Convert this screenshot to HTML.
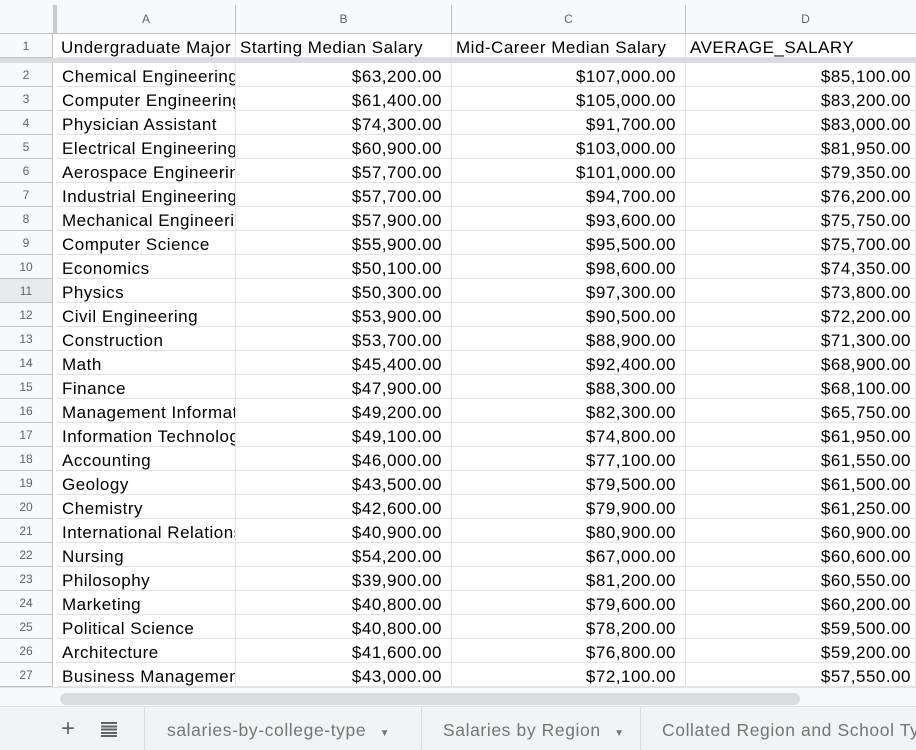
<!DOCTYPE html>
<html><head><meta charset="utf-8">
<style>
body{margin:0;width:916px;height:750px;overflow:hidden;background:#fff;font-family:"Liberation Sans",Arial,sans-serif;position:relative}
.a{position:absolute;box-sizing:border-box;white-space:nowrap;overflow:hidden}
.rh{left:0;width:53px;background:#f8f9fa;border-right:1px solid #c0c0c0;border-bottom:1px solid #c0c0c0;color:#5f6368;font-size:12px;text-align:center}
.ch{top:5px;height:29px;background:#f8f9fa;border-right:1px solid #c0c0c0;border-bottom:1px solid #c0c0c0;color:#5f6368;font-size:12px;text-align:center;line-height:29px}
.c{height:24px;border-right:1px solid #e2e2e2;border-bottom:1px solid #e2e2e2;font-size:17px;letter-spacing:0.5px;color:#000;line-height:27px;padding:0 9px 0 5px}
.r{text-align:right}
.tab{top:706px;height:44px;line-height:48px;font-size:17.5px;letter-spacing:0.6px;color:#757575;border-right:1px solid #dadce0;padding-left:22px}
</style></head><body>
<div class="a" style="left:0;top:0;width:916px;height:5px;background:#f8f9fa"></div>
<div class="a" style="left:0;top:5px;width:57px;height:29px;background:#f8f9fa;border-bottom:1px solid #c0c0c0"></div>
<div class="a" style="left:53px;top:5px;width:4px;height:29px;background:#c8c8c8;z-index:3"></div>
<div class="a ch" style="left:57px;width:179px">A</div>
<div class="a ch" style="left:236px;width:216px">B</div>
<div class="a ch" style="left:452px;width:234px">C</div>
<div class="a ch" style="left:686px;width:240px">D</div>
<div class="a" style="left:0;top:58px;width:916px;height:5px;background:#dadce0;z-index:2"></div>
<div id="grid"></div>
<div class="a" style="left:0;top:687px;width:916px;height:19px;background:#f8f9fa;border-top:1px solid #e2e2e2"></div>
<div class="a" style="left:60px;top:693px;width:740px;height:12px;border-radius:6px;background:#dadce0"></div>
<div class="a" style="left:0;top:706px;width:916px;height:44px;background:#f1f3f4;border-top:1px solid #e0e0e0"></div>
<div class="a" style="left:61px;top:716px;width:22px;height:26px;font-size:24px;color:#5f6368;line-height:26px">+</div>
<div class="a" style="left:101px;top:722px;width:16px;height:15px;background:repeating-linear-gradient(#5f6368 0 2px,transparent 2px 3.3px)"></div>
<div class="a tab" style="left:144px;width:278px;border-left:1px solid #dadce0">salaries-by-college-type <span style="font-size:10px;margin-left:8px">▼</span></div>
<div class="a tab" style="left:421px;width:220px">Salaries by Region <span style="font-size:10px;margin-left:8px">▼</span></div>
<div class="a tab" style="left:640px;width:290px;border-right:none">Collated Region and School Type</div>
<script>
const majors=["Chemical Engineering","Computer Engineering","Physician Assistant","Electrical Engineering","Aerospace Engineering","Industrial Engineering","Mechanical Engineering","Computer Science","Economics","Physics","Civil Engineering","Construction","Math","Finance","Management Information Systems","Information Technology","Accounting","Geology","Chemistry","International Relations","Nursing","Philosophy","Marketing","Political Science","Architecture","Business Management"];
const starting=["$63,200.00","$61,400.00","$74,300.00","$60,900.00","$57,700.00","$57,700.00","$57,900.00","$55,900.00","$50,100.00","$50,300.00","$53,900.00","$53,700.00","$45,400.00","$47,900.00","$49,200.00","$49,100.00","$46,000.00","$43,500.00","$42,600.00","$40,900.00","$54,200.00","$39,900.00","$40,800.00","$40,800.00","$41,600.00","$43,000.00"];
const midCareer=["$107,000.00","$105,000.00","$91,700.00","$103,000.00","$101,000.00","$94,700.00","$93,600.00","$95,500.00","$98,600.00","$97,300.00","$90,500.00","$88,900.00","$92,400.00","$88,300.00","$82,300.00","$74,800.00","$77,100.00","$79,500.00","$79,900.00","$80,900.00","$67,000.00","$81,200.00","$79,600.00","$78,200.00","$76,800.00","$72,100.00"];
const average=["$85,100.00","$83,200.00","$83,000.00","$81,950.00","$79,350.00","$76,200.00","$75,750.00","$75,700.00","$74,350.00","$73,800.00","$72,200.00","$71,300.00","$68,900.00","$68,100.00","$65,750.00","$61,950.00","$61,550.00","$61,500.00","$61,250.00","$60,900.00","$60,600.00","$60,550.00","$60,200.00","$59,500.00","$59,200.00","$57,550.00"];
const headers=["Undergraduate Major","Starting Median Salary","Mid-Career Median Salary","AVERAGE_SALARY"];
const colX=[57,236,452,686], colW=[179,216,234,240];
const g=document.getElementById('grid');
function cell(x,y,w,txt,right,name){
  const d=document.createElement('div');
  d.className='a c'+(right?' r':'');
  d.style.left=x+'px';d.style.top=y+'px';d.style.width=w+'px';
  d.textContent=txt;
  
  
  g.appendChild(d);
  return d;
}
function rowHead(y,n,h){
  const d=document.createElement('div');
  d.className='a rh';
  d.style.top=y+'px';d.style.height=h+'px';d.style.lineHeight=h+'px';
  d.textContent=n;
  
  
  g.appendChild(d);
}
rowHead(34,1,24);
for(let j=0;j<4;j++){const h=cell(colX[j],34,colW[j],headers[j],false,'header-cell');h.style.paddingLeft='4px';}
for(let i=0;i<majors.length;i++){
  const y=63+i*24;
  rowHead(y,i+2,24);
  if(i===9){g.lastChild.style.background='#e8eaed';}
  cell(colX[0],y,colW[0],majors[i],false,'major-cell');
  cell(colX[1],y,colW[1],starting[i],true,'starting-salary-cell');
  cell(colX[2],y,colW[2],midCareer[i],true,'mid-career-salary-cell');
  const d=cell(colX[3],y,230,average[i],true,'average-salary-cell');
  d.style.paddingRight='4px';
}
</script>
</body></html>
